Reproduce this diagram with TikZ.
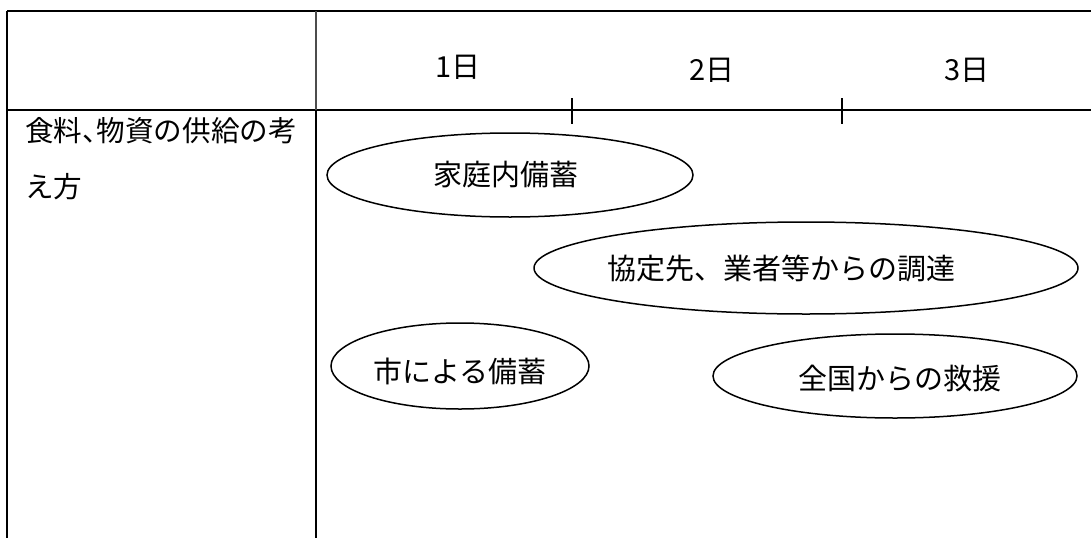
\documentclass[tikz,border=0pt]{standalone}
\usepackage{fontspec}
\setmainfont{Noto Sans CJK JP}
\newfontfamily\propfont[RawFeature=+palt]{Noto Sans CJK JP}
\tikzset{
  rule/.style={line width=2pt, black},
  tick/.style={line width=1.6pt, black},
  oval/.style={line width=1.5pt, black},
  bubbletext/.style={inner sep=0pt, font=\fontsize{29}{32}\selectfont},
  daylabel/.style={font=\fontsize{29}{32}\selectfont, anchor=center},
  celltext/.style={inner sep=0pt, font=\fontsize{28.6}{32}\selectfont, anchor=west}
}
\begin{document}
\begin{tikzpicture}[x=1pt,y=-1pt]
\useasboundingbox (0,0) rectangle (1091,538);
% table
\coordinate (tl) at (7,11);
\coordinate (tr) at (1091,11);
\coordinate (ml) at (7,110);
\coordinate (mr) at (1091,110);
\coordinate (bl) at (7,538);
\coordinate (dt) at (316,11);
\coordinate (dm) at (316,110);
\coordinate (db) at (316,538);
\draw[rule] (tl) -- (tr);
\draw[rule] (ml) -- (mr);
\draw[rule] (tl) -- (bl);
\draw[rule, line width=1.6pt, black!70] (dt) -- (dm);
\draw[rule] (dm) -- (db);
% ticks
\coordinate (t1a) at (572,98); \coordinate (t1b) at (572,124);
\coordinate (t2a) at (842,98); \coordinate (t2b) at (842,124);
\draw[tick] (t1a) -- (t1b);
\draw[tick] (t2a) -- (t2b);
% day labels
\node[daylabel] (d1) at (458,67) {1日};
\node[daylabel] (d2) at (712,70) {2日};
\node[daylabel] (d3) at (967,70) {3日};
% left cell text
\node[celltext] (c1) at (25,131) {食料{\propfont 、}物資の供給の考};
\node[celltext] (c2) at (25,187) {え方};
% bubbles
\node[bubbletext] (e1) at (506,175) {家庭内備蓄};
\draw[oval] (510,175) ellipse [x radius=183pt, y radius=42pt];
\node[bubbletext] (e2) at (781,268) {協定先、業者等からの調達};
\draw[oval] (806,268) ellipse [x radius=272pt, y radius=46pt];
\node[bubbletext] (e3) at (460,371) {市による備蓄};
\draw[oval] (460,366) ellipse [x radius=129pt, y radius=43pt];
\node[bubbletext] (e4) at (900,378) {全国からの救援};
\draw[oval] (895,376) ellipse [x radius=182pt, y radius=42pt];
\end{tikzpicture}
\end{document}
